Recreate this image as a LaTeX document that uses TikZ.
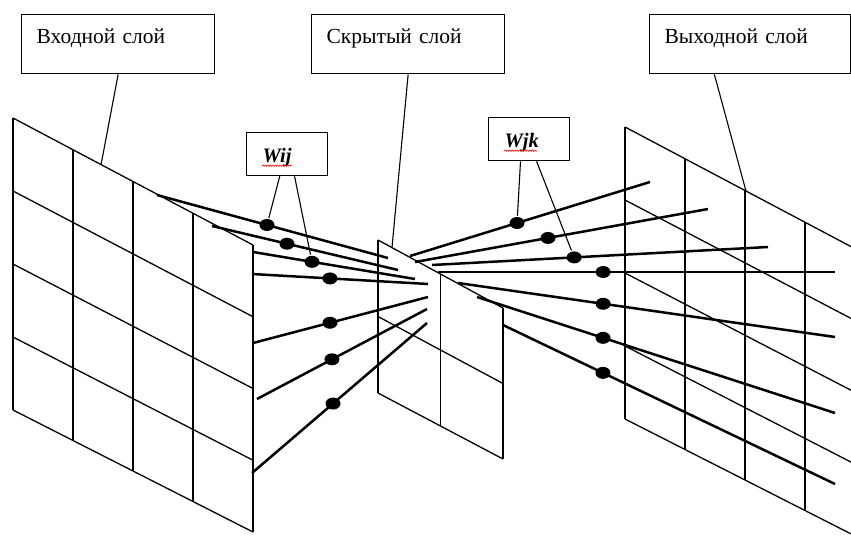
\documentclass[tikz,border=0pt]{standalone}
\usepackage{fontspec}
\setmainfont{Liberation Serif}
\usetikzlibrary{calc,shapes.geometric,decorations.pathmorphing}

\begin{document}
\begin{tikzpicture}[x=1pt,y=-1pt,
  grid/.style={line width=1.3pt},
  conn/.style={line width=2.5pt},
  lead/.style={line width=1.1pt},
  lbl/.style={draw,line width=1.3pt,inner ysep=0pt,inner xsep=15pt,align=left,anchor=north west,
    text height=29pt,text depth=30pt,font=\fontsize{21.5}{26}\selectfont},
  wbox/.style={lbl,inner xsep=16pt,text height=30pt,text depth=13pt,text width=49pt,font=\fontsize{20.5}{24}\selectfont\bfseries\itshape},
  dot/.style={ellipse,fill,inner sep=0pt,minimum width=15pt,minimum height=12pt},
  spell/.style={red,line width=.6pt,decorate,decoration={snake,amplitude=.7pt,segment length=2.5pt}}]
\useasboundingbox (0,0) rectangle (851,538);
\clip (0,0) rectangle (851,538);

\coordinate (aTL) at (13,118);  \coordinate (aTR) at (253,245);
\coordinate (aBL) at (13,410);  \coordinate (aBR) at (253,532);
\coordinate (bTL) at (378,240); \coordinate (bTR) at (503,308);
\coordinate (bBL) at (378,393); \coordinate (bBR) at (503,459);
\coordinate (cTL) at (625,127); \coordinate (cTR) at (865,254);
\coordinate (cBL) at (625,419); \coordinate (cBR) at (865,541);

\foreach \p/\n in {a/4,b/2,c/4}
  \foreach \i in {0,...,\n}{
    \draw[grid] ($(\p TL)!\i/\n!(\p TR)$) -- ($(\p BL)!\i/\n!(\p BR)$);
    \draw[grid] ($(\p TL)!\i/\n!(\p BL)$) -- ($(\p TR)!\i/\n!(\p BR)$);}

\foreach \sx/\sy/\ex/\ey/\t [count=\k] in {157/195/388/258/.476, 212/226/398/270/.403,
    253/252/415/279/.364, 252/274/428/284/.443, 253/343/428/297/.44,
    257/399/427/309/.441, 252/473/427/323/.463}
  \draw[conn] (\sx,\sy) coordinate (is\k) -- node[dot,pos=\t] (i\k) {} (\ex,\ey) coordinate (ie\k);

\foreach \sx/\sy/\ex/\ey/\t [count=\k] in {410/256/650/182/.446, 415/262/708/209/.454,
    432/265/768/247/.423, 438/272/835/272/.416, 458/283/835/337/.385,
    477/297/835/413/.352, 503/325/835/484/.301}
  \draw[conn] (\sx,\sy) coordinate (os\k) -- node[dot,pos=\t] (o\k) {} (\ex,\ey) coordinate (oe\k);

\node[lbl,text width=163pt] (inbox) at (21,14) {Входной слой};
\node[lbl,text width=163pt] (hidbox) at (311,14) {Скрытый слой};
\node[lbl,text width=171pt] (outbox) at (649,14) {Выходной слой};
\node[wbox] (wij) at (246,132) {Wij};
\node[wbox] (wjk) at (488,117) {Wjk};
\draw[spell] ([xshift=16pt,yshift=-3pt]wij.base west) -- ++(30,0);
\draw[spell] ([xshift=16pt,yshift=-3pt]wjk.base west) -- ++(33,0);

\draw[lead] (inbox.south) -- ($(aTL)!.367!(aTR)$);
\draw[lead] (hidbox.south) -- ($(bTL)!.112!(bTR)$);
\draw[lead] ($(outbox.south west)!.323!(outbox.south east)$) -- ($(cTL)!.504!(cTR)$);
\draw[lead] ($(wij.south west)!.41!(wij.south east)$) -- (i1);
\draw[lead] ($(wij.south west)!.59!(wij.south east)$) -- (i3);
\draw[lead] ($(wjk.south west)!.395!(wjk.south east)$) -- (o1);
\draw[lead] ($(wjk.south west)!.59!(wjk.south east)$) -- (o3);
\end{tikzpicture}
\end{document}
